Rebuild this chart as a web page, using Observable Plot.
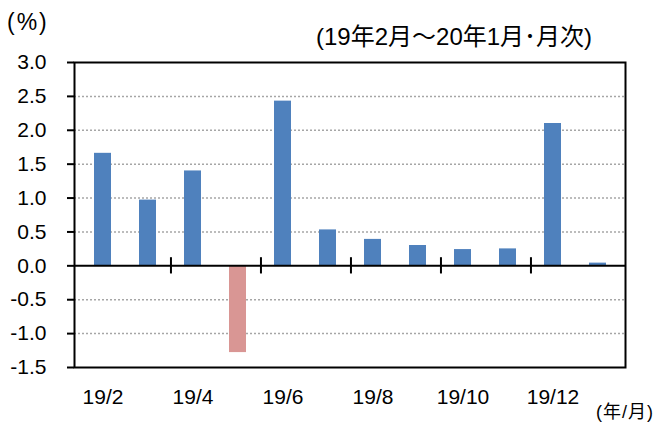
<!DOCTYPE html>
<html><head><meta charset="utf-8">
<script src="https://cdn.jsdelivr.net/npm/d3@7"></script>
<script src="https://cdn.jsdelivr.net/npm/@observablehq/plot@0.6"></script>
<style>
body{margin:0;background:#fff;}
#wrap{position:relative;width:665px;height:426px;font-family:"Liberation Sans","Noto Sans CJK JP",sans-serif;color:#000;overflow:hidden;}
#wrap svg text{font-size:21px;}
.lbl{position:absolute;white-space:nowrap;line-height:1;}
</style></head>
<body><div id="wrap"></div>
<script>
const months = ["19/2","19/3","19/4","19/5","19/6","19/7","19/8","19/9","19/10","19/11","19/12","20/1"];
const values = [1.66, 0.97, 1.40, -1.28, 2.43, 0.53, 0.39, 0.30, 0.24, 0.25, 2.10, 0.04];
const tickLabels = ["19/2","19/4","19/6","19/8","19/10","19/12"];
const yTicks = [3.0, 2.5, 2.0, 1.5, 1.0, 0.5, 0.0, -0.5, -1.0, -1.5];
const gridLines = [2.5, 2.0, 1.5, 1.0, 0.5, -0.5, -1.0];
const boundaryMonths = ["19/3","19/5","19/7","19/9","19/11"];

const data = months.map((m, i) => ({month: m, value: values[i]}));
const W = 665, H = 426, ML = 74, MR = 40, MT = 62, MB = 59;
const step = (W - ML - MR) / months.length;

const chart = Plot.plot({
  width: W, height: H,
  marginLeft: ML, marginRight: MR, marginTop: MT, marginBottom: MB,
  style: {fontFamily: '"Liberation Sans","Noto Sans CJK JP",sans-serif', fontSize: "21px", color: "#000", background: "#fff"},
  x: {type: "band", domain: months, padding: 0, label: null},
  y: {domain: [-1.5, 3.0], label: null},
  marks: [
    Plot.ruleY(gridLines, {stroke: "#a6a6a6", strokeWidth: 1.5, strokeDasharray: "2,2"}),
    Plot.barY(data, {x: "month", y: "value", fill: d => d.value < 0 ? "#d99694" : "#4f81bd", insetLeft: 14, insetRight: 14}),
    Plot.ruleY([0], {stroke: "#000", strokeWidth: 2}),
    Plot.ruleX(boundaryMonths, {x: d => d, y1: -0.12, y2: 0.12, dx: step / 2, stroke: "#000", strokeWidth: 2}),
    Plot.frame({stroke: "#000", strokeWidth: 2}),
    Plot.axisY({ticks: yTicks, tickFormat: d => d.toFixed(1), tickSize: 7, tickPadding: 21, strokeWidth: 2}),
    Plot.axisX({ticks: tickLabels, tickSize: 0, tickPadding: 22})
  ]
});

const wrap = document.getElementById("wrap");
wrap.appendChild(chart);
function addLabel(text, left, top, size, ls) {
  const s = document.createElement("span");
  s.className = "lbl"; s.textContent = text;
  s.style.left = left + "px"; s.style.top = top + "px";
  s.style.fontSize = size + "px";
  if (ls) s.style.letterSpacing = ls + "px";
  wrap.appendChild(s);
}
addLabel("(%)", 7, 11, 23, 2);
addLabel("(19年2月～20年1月･月次)", 316, 25, 24);
addLabel("(年/月)", 596, 403, 18, 1);
</script></body></html>
